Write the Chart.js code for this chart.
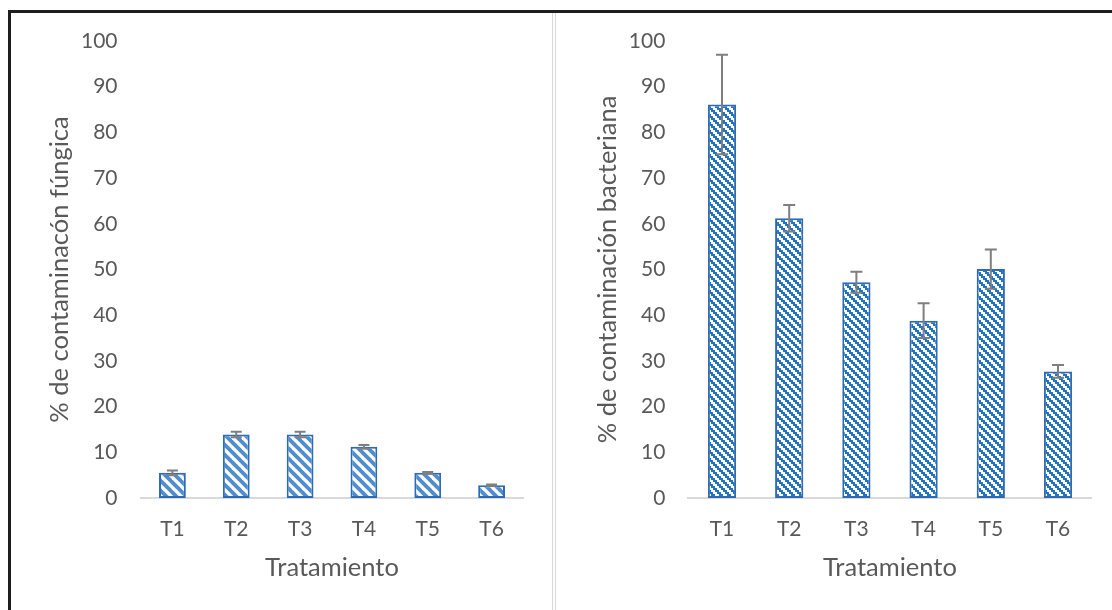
<!DOCTYPE html>
<html>
<head>
<meta charset="utf-8">
<script src="https://cdn.jsdelivr.net/npm/chart.js@4.4.1/dist/chart.umd.min.js"></script>
<style>
  html, body { margin: 0; padding: 0; background: #fff; }
  #frame { position: relative; width: 1112px; height: 610px; overflow: hidden; background: #fff; }
  #outline { position: absolute; left: 8px; top: 10px; width: 1104px; height: 600px;
             border-left: 3px solid #1e1e1e; border-top: 3px solid #1e1e1e; box-sizing: border-box; }
  .sep { position: absolute; top: 13px; bottom: 0; width: 1px; background: #d6d6d6; }
  #left { position: absolute; left: 12px; top: 12px; }
  #right { position: absolute; left: 557px; top: 12px; }
</style>
</head>
<body>
<div id="frame">
  <div id="outline"></div>
  <div class="sep" style="left:552px"></div>
  <div class="sep" style="left:555px"></div>
  <canvas id="left" width="540" height="598"></canvas>
  <canvas id="right" width="555" height="598"></canvas>
</div>
<script>
// Treatments on the horizontal axis
const treatments = ['T1', 'T2', 'T3', 'T4', 'T5', 'T6'];

// Fungal contamination (%) and its error
const fungalValues = [5.5, 13.9, 13.9, 11.2, 5.5, 2.8];
const fungalErrors = [0.5, 0.6, 0.6, 0.4, 0.2, 0.15];

// Bacterial contamination (%) and its error
const bacterialValues = [86.1, 61.2, 47.2, 38.8, 50.1, 27.7];
const bacterialErrors = [10.9, 2.9, 2.3, 3.8, 4.3, 1.4];

// Value axis ticks
const yMin = 0, yMax = 100, yStep = 10;

const TEXT = '#595959';
const FONT = 'Lato, "Open Sans", sans-serif';
const TICK_SIZE = 21;
const TITLE_SIZE = 25.5;

// Soft diagonal hatch
function softHatch() {
  const c = document.createElement('canvas');
  c.width = 10; c.height = 10;
  const g = c.getContext('2d');
  g.fillStyle = '#ffffff';
  g.fillRect(0, 0, 10, 10);
  g.strokeStyle = '#4f8dcf';
  g.lineWidth = 3.8;
  for (let k = -20; k <= 20; k += 10) {
    g.beginPath();
    g.moveTo(k - 5, -5);
    g.lineTo(k + 15, 15);
    g.stroke();
  }
  return g.createPattern(c, 'repeat');
}

// Stepped (pixel) diagonal hatch
function blockHatch() {
  const c = document.createElement('canvas');
  c.width = 8; c.height = 8;
  const g = c.getContext('2d');
  g.fillStyle = '#ffffff';
  g.fillRect(0, 0, 8, 8);
  g.fillStyle = '#2372c4';
  for (let by = 0; by < 4; by++) {
    for (let bx = 0; bx < 4; bx++) {
      if ((((bx - by) % 4) + 4) % 4 < 2) g.fillRect(bx * 2, by * 2, 2, 2);
    }
  }
  return g.createPattern(c, 'repeat');
}

// Vertical error bars with caps, drawn above the bars
const errorBars = {
  id: 'errorBars',
  afterDatasetsDraw(chart, args, opts) {
    const ctx = chart.ctx;
    const ys = chart.scales.y;
    const meta = chart.getDatasetMeta(0);
    const ds = chart.data.datasets[0];
    ctx.save();
    ctx.strokeStyle = opts.color;
    ctx.lineWidth = opts.width;
    meta.data.forEach((bar, i) => {
      const v = ds.data[i], e = opts.errors[i];
      const yTop = ys.getPixelForValue(v + e);
      const yBot = ys.getPixelForValue(v - e);
      const x = bar.x;
      ctx.beginPath();
      ctx.moveTo(x, yTop); ctx.lineTo(x, yBot);
      ctx.moveTo(x - opts.cap / 2, yTop); ctx.lineTo(x + opts.cap / 2, yTop);
      ctx.moveTo(x - opts.cap / 2, yBot); ctx.lineTo(x + opts.cap / 2, yBot);
      ctx.stroke();
    });
    ctx.restore();
  }
};

function makeChart(id, values, errors, yTitle, fill, cfg) {
  return new Chart(document.getElementById(id), {
    type: 'bar',
    data: {
      labels: treatments,
      datasets: [{
        data: values,
        backgroundColor: fill,
        borderColor: '#2e6bb3',
        borderWidth: 2,
        borderSkipped: false,
        barPercentage: cfg.barPct,
        categoryPercentage: 1
      }]
    },
    options: {
      responsive: false,
      devicePixelRatio: 1,
      animation: false,
      layout: { padding: { left: 0, top: 29, right: cfg.padRight, bottom: 0 } },
      plugins: {
        legend: { display: false },
        tooltip: { enabled: false },
        errorBars: { errors: errors, color: '#7f7f7f', width: 2, cap: cfg.cap }
      },
      scales: {
        x: {
          grid: { display: false, drawTicks: false },
          border: { display: true, color: '#d9d9d9', width: 2 },
          ticks: { color: TEXT, font: { family: FONT, size: TICK_SIZE }, padding: 19 },
          title: { display: true, text: 'Tratamiento', color: TEXT,
                   font: { family: FONT, size: TITLE_SIZE }, padding: { top: 0, bottom: 26.7 } },
          afterFit(s) { s.height = 112; s.paddingLeft = 0; s.paddingRight = 0; }
        },
        y: {
          min: yMin, max: yMax,
          grid: { display: false, drawTicks: false },
          border: { display: false },
          ticks: { stepSize: yStep, color: TEXT, font: { family: FONT, size: TICK_SIZE }, padding: 23 },
          title: { display: true, text: yTitle, color: TEXT,
                   font: { family: FONT, size: TITLE_SIZE }, padding: { top: cfg.titlePad, bottom: 0 } },
          afterFit(s) { s.width = cfg.axisWidth; s.paddingTop = 0; s.paddingBottom = 0; }
        }
      }
    },
    plugins: [errorBars]
  });
}

makeChart('left', fungalValues, fungalErrors, '% de contaminacón fúngica', softHatch(),
  { barPct: 0.42, padRight: 28.5, axisWidth: 128.5, titlePad: 32.7, cap: 11 });
makeChart('right', bacterialValues, bacterialErrors, '% de contaminación bacteriana', blockHatch(),
  { barPct: 0.42, padRight: 20.4, axisWidth: 131.4, titlePad: 35.7, cap: 12 });
</script>
</body>
</html>
